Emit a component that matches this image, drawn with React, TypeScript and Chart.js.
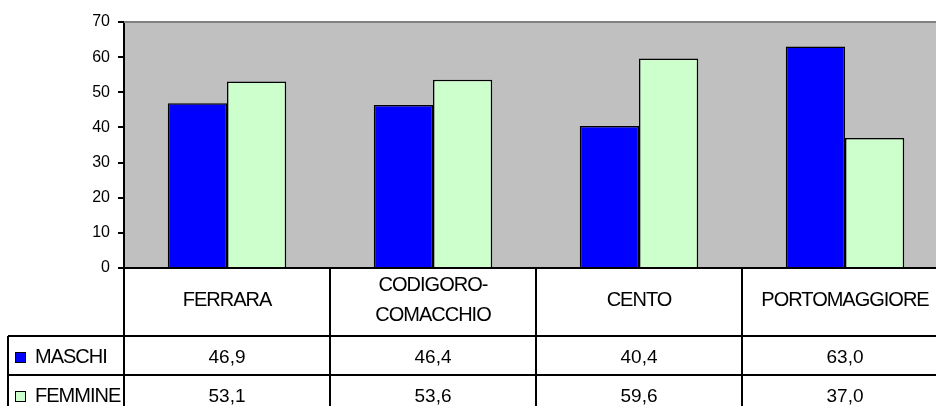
import React, { useEffect, useRef } from "react";
import { Chart, registerables } from "chart.js";

Chart.register(...registerables);

const categories: (string | string[])[] = [
  "FERRARA",
  ["CODIGORO-", "COMACCHIO"],
  "CENTO",
  "PORTOMAGGIORE",
];
const seriesNames = ["MASCHI", "FEMMINE"];
const maschi = [46.9, 46.4, 40.4, 63.0];
const femmine = [53.1, 53.6, 59.6, 37.0];
const seriesColors = ["#0000FF", "#CCFFCC"];
const yMin = 0;
const yMax = 70;
const yStep = 10;

const FONT = '"Liberation Sans", Arial, sans-serif';
const fmt = (v: number) => v.toFixed(1).replace(".", ",");

const tablePlugin = {
  id: "dataTable",
  beforeDraw(chart: any) {
    const { ctx, chartArea } = chart;
    ctx.save();
    ctx.fillStyle = "#C0C0C0";
    ctx.fillRect(chartArea.left, chartArea.top, chartArea.right - chartArea.left, chartArea.bottom - chartArea.top);
    ctx.restore();
  },
  afterDraw(chart: any) {
    const { ctx, chartArea, height } = chart;
    const { left, right, top, bottom } = chartArea;
    const xs = chart.scales.x;
    const n = categories.length;
    const cw = (right - left) / n;
    const headerH = 68;
    const rowH = 39;
    const r1 = bottom + headerH;
    const r2 = r1 + rowH;
    const tableLeft = 8;

    ctx.save();
    // top border of plot
    ctx.strokeStyle = "#808080";
    ctx.lineWidth = 2;
    ctx.beginPath();
    ctx.moveTo(left, top);
    ctx.lineTo(right, top);
    ctx.stroke();

    ctx.strokeStyle = "#000";
    ctx.lineWidth = 2;
    ctx.beginPath();
    ctx.moveTo(left, bottom);
    ctx.lineTo(right, bottom);
    ctx.moveTo(tableLeft, r1);
    ctx.lineTo(right, r1);
    ctx.moveTo(tableLeft, r2);
    ctx.lineTo(right, r2);
    for (let i = 0; i <= n; i++) {
      const xv = left + i * cw;
      ctx.moveTo(xv, bottom);
      ctx.lineTo(xv, height);
    }
    ctx.moveTo(tableLeft, r1);
    ctx.lineTo(tableLeft, height);
    ctx.stroke();

    ctx.fillStyle = "#000";
    ctx.textBaseline = "middle";
    const labelFont = `20px ${FONT}`;
    const numFont = `19px ${FONT}`;
    // header labels
    ctx.font = labelFont;
    (ctx as any).letterSpacing = "-1px";
    ctx.textAlign = "center";
    categories.forEach((c, i) => {
      const cx = xs.getPixelForValue(i);
      const lines = Array.isArray(c) ? c : [c];
      const lh = 29.5;
      const cy = (bottom + r1) / 2 - 1.5;
      lines.forEach((t, j) => {
        const y = cy + (j - (lines.length - 1) / 2) * lh;
        ctx.fillText(t, cx, y);
      });
    });
    // rows
    const rows = [maschi, femmine];
    rows.forEach((vals, ri) => {
      const rowTop = r1 + ri * rowH;
      const cy = rowTop + rowH / 2 + 2;
      ctx.font = numFont;
      (ctx as any).letterSpacing = "0px";
      ctx.textAlign = "center";
      ctx.fillStyle = "#000";
      vals.forEach((v, i) => {
        ctx.fillText(fmt(v), xs.getPixelForValue(i), cy);
      });
      // legend key
      ctx.fillStyle = seriesColors[ri];
      ctx.fillRect(15.5, cy - 5, 10, 10);
      ctx.strokeStyle = "#000";
      ctx.lineWidth = 1;
      ctx.strokeRect(15.5, cy - 5, 10, 10);
      ctx.fillStyle = "#000";
      ctx.font = labelFont;
      (ctx as any).letterSpacing = "-1px";
      ctx.textAlign = "left";
      ctx.fillText(seriesNames[ri], 35, cy);
    });
    ctx.restore();
  },
};

export default function App() {
  const ref = useRef<HTMLCanvasElement>(null);
  useEffect(() => {
    if (!ref.current) return;
    const chart = new Chart(ref.current, {
      type: "bar",
      data: {
        labels: categories as any,
        datasets: [
          {
            label: seriesNames[0],
            data: maschi,
            backgroundColor: seriesColors[0],
            borderColor: "#000",
            borderWidth: 1.5,
          },
          {
            label: seriesNames[1],
            data: femmine,
            backgroundColor: seriesColors[1],
            borderColor: "#000",
            borderWidth: 1.5,
          },
        ],
      },
      options: {
        animation: false,
        responsive: false,
        devicePixelRatio: 1,
        layout: { padding: { left: 0, right: 0, top: 22, bottom: 138 } },
        plugins: { legend: { display: false }, tooltip: { enabled: false } },
        datasets: { bar: { categoryPercentage: 0.575, barPercentage: 1 } },
        scales: {
          x: { display: false },
          y: {
            min: yMin,
            max: yMax,
            afterFit: (s: any) => {
              s.width = 124;
            },
            ticks: {
              stepSize: yStep,
              color: "#000",
              font: { family: FONT, size: 16 },
              padding: 8,
            },
            grid: {
              drawOnChartArea: false,
              drawTicks: true,
              tickLength: 6,
              color: "#000",
              lineWidth: 2,
            },
            border: { display: true, color: "#000", width: 2 },
          },
        },
      },
      plugins: [tablePlugin],
    });
    return () => chart.destroy();
  }, []);
  return (
    <div
      style={{
        position: "fixed",
        left: 0,
        top: 0,
        width: 936,
        height: 406,
        overflow: "hidden",
        background: "#fff",
      }}
    >
      <canvas ref={ref} width={948} height={406} style={{ width: 948, height: 406, display: "block" }} />
    </div>
  );
}
